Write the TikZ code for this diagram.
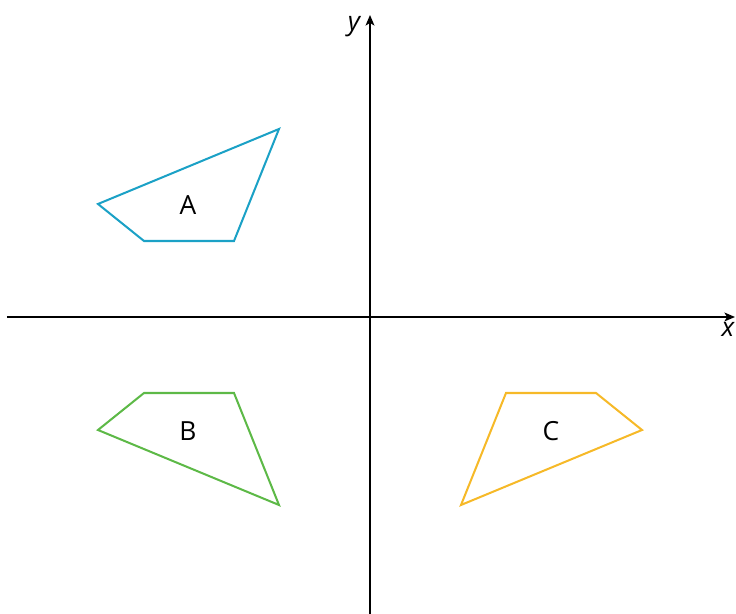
\documentclass[tikz,border=0pt]{standalone}
\usepackage{fontspec}
\setmainfont{Open Sans}
\usetikzlibrary{arrows.meta}
\definecolor{shapeA}{HTML}{1BA1C6}
\definecolor{shapeB}{HTML}{5DB947}
\definecolor{shapeC}{HTML}{F6B928}
\begin{document}
\begin{tikzpicture}[x=0.02cm, y=0.02cm, >={Stealth[length=6pt, width=5pt, inset=1.5pt]},
  axis/.style={line width=1.1pt},
  quad/.style={line width=1.15pt, line join=miter},
  lbl/.style={font=\fontsize{15}{18}\selectfont}]
  \useasboundingbox (-370,-297) rectangle (366,317);

  % Axes
  \coordinate (O) at (0,0);
  \coordinate (xl) at (-363,0);
  \coordinate (xr) at (365,0);
  \coordinate (yb) at (0,-297);
  \coordinate (yt) at (0,302);
  \draw[axis, ->] (xl) -- (xr);
  \draw[axis, ->] (yb) -- (yt);
  \node[lbl, font=\fontsize{15}{18}\selectfont\itshape] (xlab) at (358,-12) {x};
  \node[lbl, font=\fontsize{15}{18}\selectfont\itshape] (ylab) at (-16,290) {y};

  % A (second quadrant)
  \coordinate (A1) at (-272,113);
  \coordinate (A2) at (-226,76);
  \coordinate (A3) at (-136,76);
  \coordinate (A4) at (-91,188);
  \draw[quad, shapeA] (A1) -- (A2) -- (A3) -- (A4) -- cycle;
  \node[lbl] (a) at (-182,112) {A};

  % B = reflection of A in the x-axis
  \coordinate (B1) at (-272,-113);
  \coordinate (B2) at (-226,-76);
  \coordinate (B3) at (-136,-76);
  \coordinate (B4) at (-91,-188);
  \draw[quad, shapeB] (B1) -- (B2) -- (B3) -- (B4) -- cycle;
  \node[lbl] (b) at (-182,-114) {B};

  % C = A rotated by 180 degrees about O
  \coordinate (C1) at (272,-113);
  \coordinate (C2) at (226,-76);
  \coordinate (C3) at (136,-76);
  \coordinate (C4) at (91,-188);
  \draw[quad, shapeC] (C1) -- (C2) -- (C3) -- (C4) -- cycle;
  \node[lbl] (c) at (181,-114) {C};

\end{tikzpicture}
\end{document}
